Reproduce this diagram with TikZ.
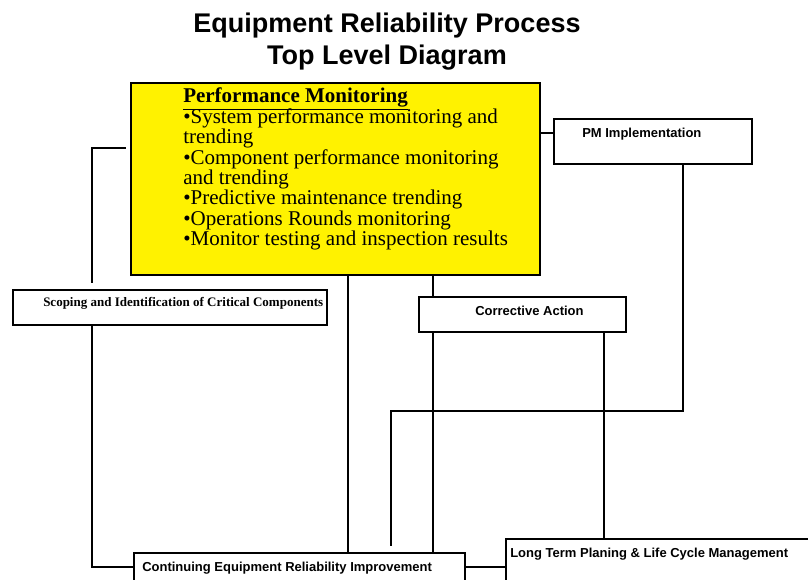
\documentclass[tikz,border=0pt]{standalone}
\usepackage{fontspec}
\setmainfont{Liberation Serif}
\newfontfamily\arial{Liberation Sans}
\usetikzlibrary{fit}

\begin{document}
\begin{tikzpicture}[x=0.75pt,y=-0.75pt,
    box/.style={draw,line width=1pt,inner sep=0pt},
    lab/.style={anchor=base west,inner sep=0pt,font=\arial\bfseries\fontsize{9.75}{11}\selectfont},
    link/.style={line width=1pt}]
    \useasboundingbox (0,0) rectangle (808,580);
    %标题
    \node[anchor=base,font=\arial\bfseries\fontsize{20.25}{24}\selectfont] (title1) at (387,33) {Equipment Reliability Process};
    \node[anchor=base,font=\arial\bfseries\fontsize{20.25}{24}\selectfont] (title2) at (387,65) {Top Level Diagram};
    %方框
    \node[box,fill=yellow,fit={(131,83) (540,275)}] (pm) {};
    \node[box,fit={(554,119) (752,164)}] (impl) {};
    \node[box,fit={(13,290) (327,325)}] (scope) {};
    \node[box,fit={(419,297) (626,332)}] (ca) {};
    \node[box,fit={(134,553) (465,600)}] (cont) {};
    \node[box,fit={(506,539) (830,600)}] (lt) {};
    %方框文字
    \foreach \t [count=\i from 0] in {{\textbf{\underline{Performance Monitoring}}},
        •System performance monitoring and,trending,
        •Component performance monitoring,and trending,
        •Predictive maintenance trending,•Operations Rounds monitoring,
        •Monitor testing and inspection results}
        \node[anchor=base west,inner sep=0pt,font=\fontsize{15.75}{18}\selectfont] (pmline\i) at (183,103+20.4*\i) {\t};
    \node[lab] (implText) at (582,137.5) {PM Implementation};
    \node[lab] (caText) at (475,316) {Corrective Action};
    \node[lab,font=\bfseries\fontsize{9.75}{11}\selectfont] (scopeText) at (43,307) {Scoping and Identification of Critical Components};
    \node[lab] (contText) at (142,572) {Continuing Equipment Reliability Improvement};
    \node[lab] (ltText) at (510,558) {Long Term Planing \& Life Cycle Management};
    %拐点
    \coordinate (a1) at (92,148);
    \coordinate (a2) at (92,567);
    \coordinate (b1) at (554,133);
    \coordinate (b2) at (683,411);
    \coordinate (b3) at (391,411);
    \coordinate (c1) at (348,420);
    \coordinate (c2) at (433,420);
    \coordinate (c3) at (604,420);
    \coordinate (c4) at (485,567);
    %连线
    \draw[link,shorten <=3.5pt,shorten >=4.5pt] (pm.west |- a1) -- (a1) -- (scope.north -| a1);
    \draw[link] (scope.south -| a2) -- (a2) -- (cont.west |- a2);
    \draw[link] (pm.east |- b1) -- (impl.west |- b1);
    \draw[link,shorten >=5pt] (impl.south -| b2) -- (b2) -- (b3) -- (cont.north -| b3);
    \draw[link] (pm.south -| c1) -- (cont.north -| c1);
    \draw[link] (pm.south -| c2) -- (ca.north -| c2);
    \draw[link] (ca.south -| c2) -- (cont.north -| c2);
    \draw[link] (ca.south -| c3) -- (lt.north -| c3);
    \draw[link] (cont.east |- c4) -- (lt.west |- c4);
\end{tikzpicture}
\end{document}
